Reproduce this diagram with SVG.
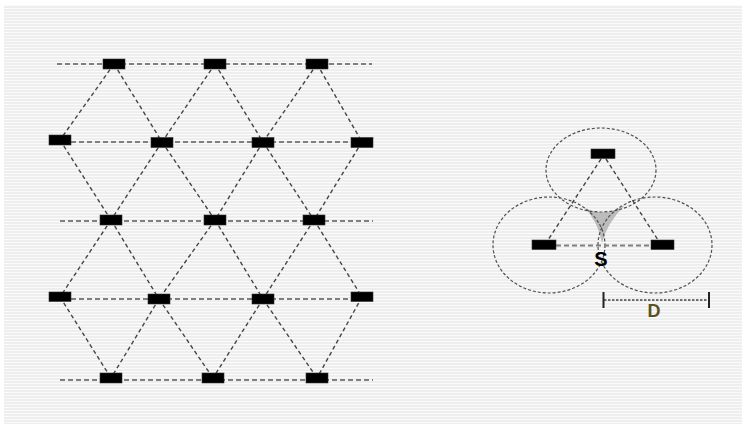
<svg xmlns="http://www.w3.org/2000/svg" width="746" height="428" viewBox="0 0 746 428">
<defs>
<pattern id="stripes" x="0" y="0" width="6" height="3" patternUnits="userSpaceOnUse">
<rect width="6" height="3" fill="#eeeeee"/>
<rect y="2" width="6" height="1" fill="#fbfbfb"/>
</pattern>
</defs>
<style>
.node{fill:#000;stroke:#333;stroke-width:0.6}
.h{stroke:#808080;stroke-width:1.8;stroke-dasharray:5 3;fill:none}
.d{stroke:#454545;stroke-width:1.4;stroke-dasharray:4 3;fill:none}
.c{stroke:#505050;stroke-width:1.2;stroke-dasharray:3 2;fill:none}
.lbl{font-family:"Liberation Sans",Arial,sans-serif;font-weight:bold;text-anchor:middle}
</style>
<rect width="746" height="428" fill="#ffffff"/>
<rect x="4" y="5" width="738" height="419" fill="url(#stripes)"/>

<g id="connectors">
<line class="h" x1="57" y1="64" x2="372" y2="64"/>
<line class="h" x1="71" y1="142" x2="351" y2="142"/>
<line class="h" x1="60" y1="221" x2="373" y2="221"/>
<line class="h" x1="71" y1="299" x2="351" y2="299"/>
<line class="h" x1="60" y1="380" x2="373" y2="380"/>
<line class="d" x1="114" y1="64" x2="60" y2="140"/>
<line class="d" x1="114" y1="64" x2="162" y2="142"/>
<line class="d" x1="215" y1="64" x2="162" y2="142"/>
<line class="d" x1="215" y1="64" x2="263" y2="142"/>
<line class="d" x1="317" y1="64" x2="263" y2="142"/>
<line class="d" x1="317" y1="64" x2="362" y2="142"/>
<line class="d" x1="60" y1="140" x2="111" y2="220"/>
<line class="d" x1="162" y1="142" x2="111" y2="220"/>
<line class="d" x1="162" y1="142" x2="215" y2="220"/>
<line class="d" x1="263" y1="142" x2="215" y2="220"/>
<line class="d" x1="263" y1="142" x2="314" y2="220"/>
<line class="d" x1="362" y1="142" x2="314" y2="220"/>
<line class="d" x1="111" y1="220" x2="60" y2="297"/>
<line class="d" x1="111" y1="220" x2="159" y2="299"/>
<line class="d" x1="215" y1="220" x2="159" y2="299"/>
<line class="d" x1="215" y1="220" x2="263" y2="299"/>
<line class="d" x1="314" y1="220" x2="263" y2="299"/>
<line class="d" x1="314" y1="220" x2="362" y2="297"/>
<line class="d" x1="60" y1="297" x2="111" y2="378"/>
<line class="d" x1="159" y1="299" x2="111" y2="378"/>
<line class="d" x1="159" y1="299" x2="213" y2="378"/>
<line class="d" x1="263" y1="299" x2="213" y2="378"/>
<line class="d" x1="263" y1="299" x2="317" y2="378"/>
<line class="d" x1="362" y1="297" x2="317" y2="378"/>
<path d="M585,208 Q605,218 625,205 Q607,223 602,243 Q598,222 585,208 Z" fill="#bcbcbc" stroke="none"/>
<ellipse class="c" cx="601" cy="170" rx="55" ry="42"/>
<ellipse class="c" cx="549" cy="245" rx="56" ry="48"/>
<ellipse class="c" cx="655" cy="245" rx="57" ry="48"/>
<line class="h" x1="556" y1="245.5" x2="651" y2="245.5" stroke-width="1.5"/>
<line class="d" x1="601" y1="159" x2="548" y2="240"/>
<line class="d" x1="606" y1="159" x2="658" y2="240"/>
<line x1="604" y1="300" x2="709" y2="300" stroke="#444" stroke-width="1.3" stroke-dasharray="2.5 1.5"/>
<line x1="603.5" y1="292" x2="603.5" y2="308" stroke="#222" stroke-width="2"/>
<line x1="709" y1="292" x2="709" y2="308" stroke="#222" stroke-width="2"/>
</g>

<g id="n1"><rect class="node" x="103" y="59" width="22" height="10"/></g>
<g id="n2"><rect class="node" x="204" y="59" width="22" height="10"/></g>
<g id="n3"><rect class="node" x="306" y="59" width="22" height="10"/></g>
<g id="n4"><rect class="node" x="49" y="135" width="22" height="10"/></g>
<g id="n5"><rect class="node" x="151" y="137.5" width="22" height="10"/></g>
<g id="n6"><rect class="node" x="252" y="137.5" width="22" height="10"/></g>
<g id="n7"><rect class="node" x="351" y="137.5" width="22" height="10"/></g>
<g id="n8"><rect class="node" x="100" y="215" width="22" height="10"/></g>
<g id="n9"><rect class="node" x="204" y="215" width="22" height="10"/></g>
<g id="n10"><rect class="node" x="303" y="215" width="22" height="10"/></g>
<g id="n11"><rect class="node" x="49" y="292" width="22" height="9.5"/></g>
<g id="n12"><rect class="node" x="148" y="294" width="22" height="10"/></g>
<g id="n13"><rect class="node" x="252" y="294" width="22" height="10"/></g>
<g id="n14"><rect class="node" x="351" y="292" width="22" height="9.5"/></g>
<g id="n15"><rect class="node" x="100" y="373" width="22" height="10"/></g>
<g id="n16"><rect class="node" x="202" y="373" width="22" height="10"/></g>
<g id="n17"><rect class="node" x="306" y="373" width="22" height="10"/></g>
<g id="t1"><rect class="node" x="591" y="149" width="24" height="9.5"/></g>
<g id="t2"><rect class="node" x="532" y="240" width="24" height="9.5"/></g>
<g id="t3"><rect class="node" x="651" y="240" width="23" height="9.5"/></g>
<g id="labelS"><text class="lbl" x="601" y="265.5" font-size="20" fill="#000">S</text></g>
<g id="labelD"><text class="lbl" x="654" y="316.5" font-size="18" fill="#5a5120">D</text></g>
</svg>
